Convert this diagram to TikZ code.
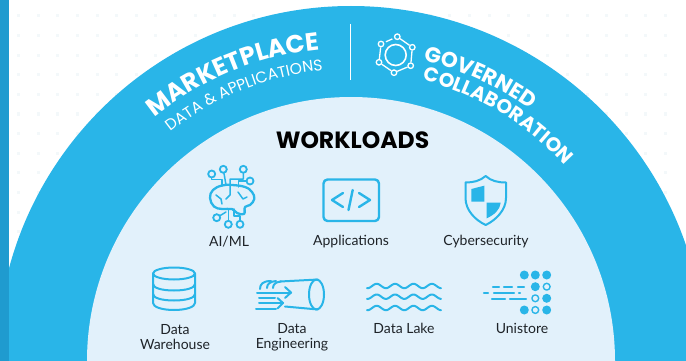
\documentclass[tikz,border=0pt]{standalone}
\usepackage{fontspec}
\setmainfont{Lato}
\newfontfamily\headfont{Poppins}
\usetikzlibrary{decorations.text}
\definecolor{snowblue}{HTML}{29B5E8}
\definecolor{snowdark}{HTML}{1F9BCF}
\definecolor{snowpale}{HTML}{E2F1FB}
\definecolor{dotgrey}{HTML}{F3F8FA}
\definecolor{labelgrey}{HTML}{1E2328}
\newcommand{\bigarc}{\color{white}\headfont\bfseries\fontsize{25}{25}\selectfont}
\newcommand{\midarc}{\color{white}\headfont\fontsize{15.6}{16}\selectfont}
\newcommand{\govarc}{\color{white}\headfont\bfseries\fontsize{21.5}{22}\selectfont}
\newcommand{\colarc}{\color{white}\headfont\bfseries\fontsize{19.8}{20}\selectfont}
\tikzset{
  iconline/.style={draw=snowblue,line width=2pt,line cap=round,line join=round},
  wireline/.style={iconline,line width=1.5pt},
  iconfill/.style={fill=snowblue,draw=none},
  worklabel/.style={font=\fontsize{14}{15}\selectfont,text=labelgrey,align=center,inner sep=0pt},
  arctext/.style={decorate,decoration={text along path,text align=center,text={#1}}},
  ringdot/.style={circle,draw=white,line width=1.3pt,inner sep=0pt,minimum size=5.5pt},
  wirecircle/.style={circle,draw=snowblue,line width=1.8pt,inner sep=0pt,minimum size=7pt}
}
\begin{document}
\begin{tikzpicture}[x=1pt,y=-1pt]
    \clip (0,0) rectangle (686,361);
    \fill[white] (0,0) rectangle (686,361);

    % dots behind the arch
    \foreach \i in {0,...,33}
      \foreach \j in {0,...,17}
        \fill[dotgrey] ({18.6+19.6*\i-1.5},{16+19.6*\j-1.5}) rectangle ++(3,3);

    \coordinate (hub) at (351,360);
    \fill[snowblue] (hub) circle[radius=354pt];
    \fill[snowpale] (351,361) circle[radius=264pt];
    \fill[snowdark] (0,0) rectangle (8.5,361);
    \draw[white,line width=0.9pt] (350.5,24) coordinate (divtop) -- (350.5,80) coordinate (divbot);

    % lettering on the arch
    \begin{scope}[shift={(hub)},y=1pt]
      \path[arctext={|\bigarc|MARKETPLACE}] (129.4:312pt) arc[start angle=129.4,end angle=95.4,radius=312pt];
      \path[arctext={|\midarc|DATA {\&} APPLICATIONS}] (129:291pt) arc[start angle=129,end angle=94.9,radius=291pt];
      \path[arctext={|\govarc|GOVERNED}] (76.3:308pt) arc[start angle=76.3,end angle=54.5,radius=308pt];
      \path[arctext={|\colarc|COLLABORATION}] (75.2:289pt) arc[start angle=75.2,end angle=42.7,radius=289pt];
    \end{scope}

    % collaboration ring
    \draw[white,line width=1.6pt] (395.7,55) circle[radius=10.5pt];
    \foreach \n/\x/\y in {1/397.3/36.7,2/412.3/47.3,3/410.7/65.7,4/394/72.7,5/379/62.3,6/381/44}
      \node[ringdot] (ring\n) at (\x,\y) {};
    \draw[white,line width=1.3pt,shorten >=2pt,shorten <=2pt] (ring1) -- (ring2) -- (ring3) -- (ring4) -- (ring5) -- (ring6) -- (ring1);

    \node[font=\headfont\bfseries\fontsize{23.5}{24}\selectfont,inner sep=0pt] (title) at (352.5,140.5) {WORKLOADS};

    % brain
    \foreach \n/\x/\y in {1/211.7/174,2/223.3/169.3,3/243.3/169.3,4/250/181,5/216.7/217.7,6/228.3/224.3,7/240/224.3}
      \node[wirecircle] (wire\n) at (\x,\y) {};
    \draw[iconline,line width=2.3pt] plot[smooth cycle,tension=0.7] coordinates {(210,198) (213,190) (222,185.5) (232,185) (245,187) (252,192) (254.3,199) (250,205) (245,207) (244,214) (237,213) (232,209) (222,209) (214,206.5)};
    \draw[wireline] (wire1) |- (222,179.5) -- (222,186);
    \draw[wireline] (wire2) -- (226,185);
    \draw[wireline] (wire3) |- (230,179) -- (230,195) -- (226,199);
    \draw[wireline] (wire4) -- (238.5,181) -- (238.5,187);
    \draw[wireline] (238,192) -- (243,199) -- (247,197);
    \draw[wireline] (216,195) -- (221,199) -- (222,204);
    \draw[wireline] (wire5) -- (226,212);
    \draw[wireline] (wire6) -- (228.3,209);
    \draw[wireline] (wire7) |- (234,216) -- (234,209);

    % code window
    \draw[iconline,line width=2.4pt,rounded corners=4pt] (323.5,179.5) rectangle (379,221);
    \draw[iconline,line width=2.4pt] (343,193) -- (332,200) -- (343,207);
    \draw[iconline,line width=2.4pt] (352.7,190) -- (348.5,210);
    \draw[iconline,line width=2.4pt] (359,193) -- (370,200) -- (359,207);

    % shield
    \draw[iconline] (485.7,176) .. controls (480,181) and (473,182.5) .. (465.5,182.5) -- (465.5,198) .. controls (465.5,210) and (475,220) .. (485.7,225) .. controls (496,220) and (506,210) .. (506,198) -- (506,182.5) .. controls (498,182.5) and (491,181) .. cycle;
    \fill[iconfill] (471.3,189) -- (484.3,185.7) -- (484.3,201.7) -- (471.3,201.7) -- cycle;
    \fill[iconfill] (486.7,202.7) -- (500.7,202.7) .. controls (500,210) and (494,215) .. (486.7,218.3) -- cycle;

    % database
    \draw[iconline] (174,273.5) ellipse[x radius=21pt,y radius=6pt];
    \draw[iconline] (153,273.5) -- (153,303) .. controls (153,307) and (162,310) .. (174,310) .. controls (186,310) and (195,307) .. (195,303) -- (195,273.5);
    \draw[iconline] (153,284) .. controls (153,288) and (162,290.5) .. (174,290.5) .. controls (186,290.5) and (195,288) .. (195,284);
    \draw[iconline] (153,294) .. controls (153,298) and (162,300.5) .. (174,300.5) .. controls (186,300.5) and (195,298) .. (195,294);

    % pipe
    \draw[iconline] (316.5,294.5) ellipse[x radius=7.5pt,y radius=15pt];
    \draw[iconline] (318,279.5) -- (280,281.5);
    \draw[iconline] (318,309.5) -- (285,306.5);
    \draw[iconline] (260,289) .. controls (260,284) and (263,281) .. (271,281);
    \draw[iconline] (267,288) .. controls (267,284) and (270,281.5) .. (276,281);
    \draw[iconline] (273,288) .. controls (273,284) and (276,282) .. (281,281.5);
    \draw[iconline] (257,292.5) -- (291,292.5);
    \draw[iconline] (285,287) -- (291,292.5) -- (285,298);
    \draw[iconline] (259,298) -- (275,298);
    \draw[iconline] (259,303) -- (283,303);
    \draw[iconline] (277.5,298) -- (283,303) -- (277.5,308.5);
    \draw[iconline] (256,309) -- (276,309);

    % waves
    \foreach \yy in {286,296.7,308}
      \draw[iconline] plot[domain=367:441,samples=60] (\x,{\yy-2.2*cos(19.565*(\x-376.7))});

    % unistore
    \foreach \x/\y in {524.3/275,535.3/275,546.7/275,535.3/286.7,546.7/298.3,524.3/310,546.7/310}
      \fill[iconfill] (\x,\y) circle[radius=4.5pt];
    \foreach \x/\y in {546.7/286.7,535.3/298.3,535.3/310}
      \draw[iconline,line width=1.4pt] (\x,\y) circle[radius=3.4pt];
    \foreach \a/\b/\y in {493/499/286.7,504/512/286.7,518/524/286.7,484/488/292.7,494/514/292.7,519/520/292.7,492/505/298.7,510/526/298.7}
      \draw[iconline,line width=2.2pt] (\a,\y) -- (\b,\y);

    \node[worklabel] (r1c1) at (229,242) {AI/ML};
    \node[worklabel] (r1c2) at (351,242) {Applications};
    \node[worklabel] (r1c3) at (486,242) {Cybersecurity};
    \node[worklabel] (r2c1) at (175,337) {Data\\Warehouse};
    \node[worklabel] (r2c2) at (292,337) {Data\\Engineering};
    \node[worklabel] (r2c3) at (404,328) {Data Lake};
    \node[worklabel] (r2c4) at (522,328) {Unistore};
\end{tikzpicture}
\end{document}
